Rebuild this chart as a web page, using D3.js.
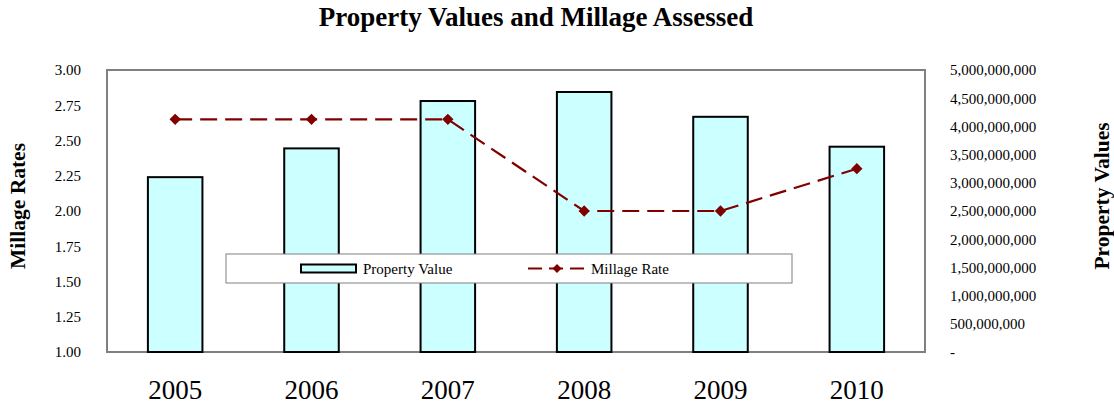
<!DOCTYPE html>
<html><head><meta charset="utf-8">
<script src="https://cdn.jsdelivr.net/npm/d3@7"></script>
<style>body{margin:0;background:#fff}svg{display:block}text{font-family:"Liberation Serif","Times New Roman",serif}</style>
</head><body>
<svg id="c" width="1114" height="406"></svg>
<script>
const years = ["2005","2006","2007","2008","2009","2010"];
const propertyValues = [3.10e9, 3.61e9, 4.45e9, 4.61e9, 4.17e9, 3.64e9];
const millageRates = [2.65, 2.65, 2.65, 2.00, 2.00, 2.30];
const rateTicks = [1.00,1.25,1.50,1.75,2.00,2.25,2.50,2.75,3.00];
const valueTicks = [0,5e8,1e9,1.5e9,2e9,2.5e9,3e9,3.5e9,4e9,4.5e9,5e9];

const svg = d3.select("#c");
const L=107,R=925,T=70,B=352;
const x = d3.scaleBand().domain(years).range([L,R]).paddingInner(0.6).paddingOuter(0.3);
const yR = d3.scaleLinear().domain([1,3]).range([B,T]);
const yV = d3.scaleLinear().domain([0,5e9]).range([B,T]);

svg.append("text").attr("x",536).attr("y",26).attr("text-anchor","middle")
  .attr("font-weight","bold").attr("font-size",27).text("Property Values and Millage Assessed");

// frame
svg.append("rect").attr("x",L).attr("y",T).attr("width",R-L).attr("height",B-T)
  .attr("fill","none").attr("stroke","#808080").attr("stroke-width",2);

// left axis
const la = svg.append("g").attr("transform",`translate(${L-23},0)`)
  .call(d3.axisLeft(yR).tickValues(rateTicks).tickFormat(d3.format(".2f")).tickSize(0));
la.select(".domain").remove();
la.selectAll("text").attr("font-size",15).attr("font-family","Liberation Serif").attr("fill","#000").attr("dx",0);

// right axis
const ra = svg.append("g").attr("transform",`translate(${R+22},0)`)
  .call(d3.axisRight(yV).tickValues(valueTicks).tickFormat(d=>d===0?"-":d3.format(",")(d)).tickSize(0));
ra.select(".domain").remove();
ra.selectAll("text").attr("font-size",15).attr("font-family","Liberation Serif").attr("fill","#000").attr("dx",0);

// bottom axis
const ba = svg.append("g").attr("transform",`translate(0,${B+25})`)
  .call(d3.axisBottom(x).tickSize(0));
ba.select(".domain").remove();
ba.selectAll("text").attr("font-size",27).attr("font-family","Liberation Serif").attr("fill","#000").attr("dy","0.71em");

// axis titles
svg.append("text").attr("transform","translate(25,206) rotate(-90)").attr("text-anchor","middle")
  .attr("font-weight","bold").attr("font-size",21.5).text("Millage Rates");
svg.append("text").attr("transform","translate(1109,196) rotate(-90)").attr("text-anchor","middle")
  .attr("font-weight","bold").attr("font-size",21.5).text("Property Values");

// bars
svg.append("g").selectAll("rect").data(years).join("rect")
  .attr("x",d=>x(d)).attr("width",x.bandwidth())
  .attr("y",(d,i)=>yV(propertyValues[i])).attr("height",(d,i)=>B-yV(propertyValues[i]))
  .attr("fill","#ccffff").attr("stroke","#000").attr("stroke-width",2);

// line
const cx = d=>x(d)+x.bandwidth()/2;
svg.append("path").datum(years)
  .attr("d",d3.line().x(cx).y((d,i)=>yR(millageRates[i])))
  .attr("fill","none").attr("stroke","#800000").attr("stroke-width",2.2).attr("stroke-dasharray","17,8");
svg.append("g").selectAll("path").data(years).join("path")
  .attr("d",d3.symbol(d3.symbolSquare,64))
  .attr("transform",(d,i)=>`translate(${cx(d)},${yR(millageRates[i])}) rotate(45)`)
  .attr("fill","#800000");

// legend
const lg = svg.append("g");
lg.append("rect").attr("x",226).attr("y",254).attr("width",566).attr("height",29)
  .attr("fill","#fff").attr("stroke","#808080").attr("stroke-width",1);
lg.append("rect").attr("x",301).attr("y",264.5).attr("width",55).attr("height",8)
  .attr("fill","#ccffff").attr("stroke","#000").attr("stroke-width",2);
lg.append("text").attr("x",363).attr("y",274).attr("font-size",15).text("Property Value");
lg.append("line").attr("x1",528).attr("x2",586).attr("y1",268.5).attr("y2",268.5)
  .attr("stroke","#800000").attr("stroke-width",2.2).attr("stroke-dasharray","14,7");
lg.append("path").attr("d",d3.symbol(d3.symbolSquare,40)).attr("transform","translate(557,268.5) rotate(45)").attr("fill","#800000");
lg.append("text").attr("x",591).attr("y",274).attr("font-size",15).text("Millage Rate");
</script>
</body></html>
